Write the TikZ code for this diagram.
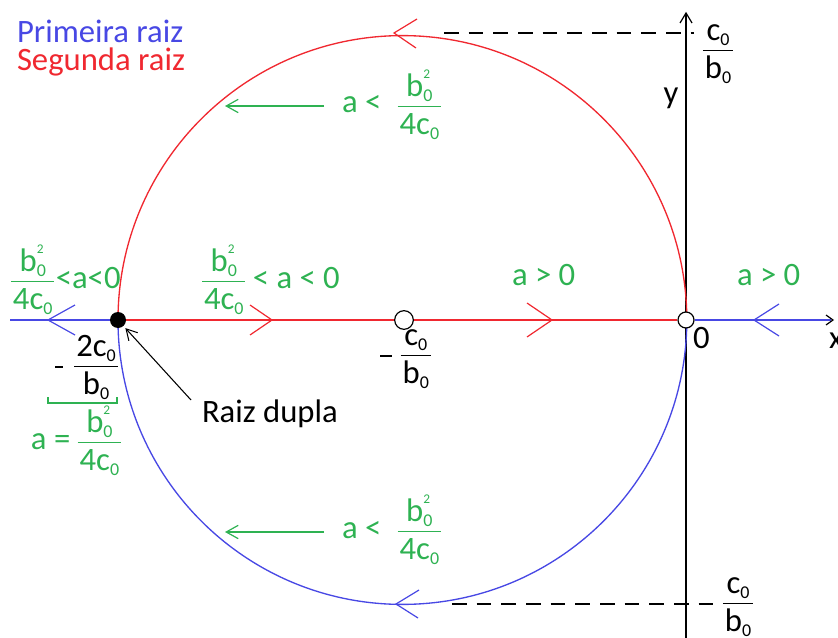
\documentclass[tikz,border=0pt]{standalone}
\usepackage{fontspec}
\setmainfont{Carlito}
\usetikzlibrary{arrows.meta}
\definecolor{cblue}{RGB}{72,72,228}
\definecolor{cred}{RGB}{240,40,48}
\definecolor{cgreen}{RGB}{46,178,82}
\newcommand\subz{\raisebox{-3.8pt}{\fontsize{13.5}{13.5}\selectfont 0}}
\newcommand\supt{\raisebox{13.5pt}{\fontsize{10}{10}\selectfont 2}}
\newcommand\bq{b\rlap{\supt}\subz}
\newcommand\cz{c\subz}
\newcommand\bz{b\subz}
\newlength\fax \setlength\fax{4.6pt}
\newlength\fnum \setlength\fnum{7.8pt}
\newlength\fden \setlength\fden{20.8pt}
\newlength\fwd
\newcommand\fr[2]{\begingroup\sbox0{#1}\sbox2{#2}%
  \ifdim\wd0>\wd2 \setlength\fwd{\wd0}\else\setlength\fwd{\wd2}\fi
  \addtolength\fwd{3pt}%
  \rlap{\makebox[\fwd]{\raisebox{\dimexpr\fax+\fnum}{\usebox0}}}%
  \rlap{\makebox[\fwd]{\raisebox{\dimexpr\fax-\fden}{\usebox2}}}%
  \rule[\dimexpr\fax-0.45pt]{\fwd}{0.9pt}\endgroup}
\newcommand\mn[1]{\rule[\dimexpr\fax-0.5pt]{#1}{1pt}}
\begin{document}
\begin{tikzpicture}[x=0.75pt,y=-0.75pt,
  lab/.style={inner sep=0pt,outer sep=0pt,font=\fontsize{24.5}{29}\selectfont,anchor=base west},
  glab/.style={lab,text=cgreen},
  dotn/.style={circle,fill=black,minimum size=12pt,inner sep=0pt},
  hole/.style={circle,draw=black,fill=white,inner sep=0pt,line width=0.9pt},
  curve/.style={line width=1pt},
  chev/.style={line width=0.9pt},
  dashln/.style={line width=0.9pt,dash pattern=on 11pt off 7.5pt},
  garrow/.style={cgreen,line width=0.9pt,-{Straight Barb[length=9pt,width=10pt]}}
]
\useasboundingbox (0,0) rectangle (838,638);
\coordinate (L) at (118,320);
\coordinate (R) at (686,320);
\coordinate (M) at (404,320);
\coordinate (ytop) at (686,13);
\coordinate (ybot) at (686,640);
\coordinate (xl) at (10,320);
\coordinate (xr) at (831,320);
\coordinate (xt) at (833,320);
% y axis
\draw[line width=0.9pt] (ybot) -- (ytop);
\draw[line width=0.9pt] (ytop) ++(-6,10) -- (ytop) -- ++(6,10);
% circle halves
\draw[cred,curve] (L) arc[start angle=180,end angle=0,radius=213.3pt];
\draw[cblue,curve] (L) arc[start angle=180,end angle=360,radius=213.3pt];
% points
\node[dotn] (dd) at (L) {};
\node[hole,minimum size=14pt] (hm) at (M) {};
\node[hole,minimum size=12pt] (ho) at (R) {};
% horizontal line
\draw[cred,curve] (dd) -- (hm) -- (ho);
\draw[cblue,curve] (xl) -- (dd);
\draw[cblue,curve] (ho) -- (xr);
\draw[line width=0.9pt] (xt) ++(-7,-5) -- (xt) -- ++(-7,5);
% chevrons
\draw[cblue,chev] (48,320) ++(27,-15) -- (48,320) -- ++(27,15);
\draw[cred,chev] (272,320) ++(-22,-15) -- (272,320) -- ++(-22,15);
\draw[cred,chev] (552,320) ++(-25,-17) -- (552,320) -- ++(-25,17);
\draw[cblue,chev] (754,320) ++(25,-16) -- (754,320) -- ++(25,16);
\draw[cred,chev] (394,33) ++(23,-14) -- (394,33) -- ++(22,15);
\draw[cblue,chev] (396,604) ++(23,-14) -- (396,604) -- ++(22,14);
% dashed
\draw[dashln] (444,33) -- (694,33);
\draw[dashln] (452,604) -- (714,604);
% legend
\node[lab,text=cblue] (leg1) at (17,43) {Primeira raiz};
\node[lab,text=cred] (leg2) at (17,71) {Segunda raiz};
% axis labels
\node[lab,anchor=base] (ly) at (671,104) {y};
\node[lab] (l0) at (693,348) {0};
\node[lab] (lx) at (829,348) {x};
\node[lab,anchor=base] (f1) at (718,57) {\fr{\cz}{\bz}};
\node[lab,anchor=base] (f2) at (738,610) {\fr{\cz}{\bz}};
\node[lab] (m1) at (380,362) {\mn{9pt}\hspace{6.5pt}\fr{\cz}{\bz}};
\node[lab] (m2) at (55,373) {\mn{6pt}\hspace{8.5pt}\fr{2\cz}{\bz}};
% raiz dupla
\node[lab] (rd) at (202,422) {Raiz dupla};
\coordinate (ra) at (191,400);
\draw[line width=0.8pt,-{Straight Barb[length=8pt,width=9pt]},shorten >=2pt] (ra) -- (dd);
% green
\coordinate (g1a) at (324,106);
\coordinate (g1b) at (225,106);
\coordinate (g2a) at (324,532);
\coordinate (g2b) at (225,532);
\draw[garrow] (g1a) -- (g1b);
\draw[garrow] (g2a) -- (g2b);
\node[glab] (t1) at (342,113) {a <\hspace{0.5em}\fr{\bq}{4\cz}};
\node[glab] (t2) at (342,538) {a <\hspace{0.5em}\fr{\bq}{4\cz}};
\node[glab] (t3) at (11,288) {\fr{\bq}{4\cz}\hspace{1pt}<a<0};
\node[glab] (t4) at (202,288) {\fr{\bq}{4\cz} < a < 0};
\node[glab] (t5) at (512,285) {a > 0};
\node[glab] (t6) at (737,285) {a > 0};
\node[glab] (t7) at (31,449) {a = \fr{\bq}{4\cz}};
\draw[cgreen,line width=0.9pt] (48,397) -- (48,403) -- (117,403) -- (117,397);
\end{tikzpicture}
\end{document}
